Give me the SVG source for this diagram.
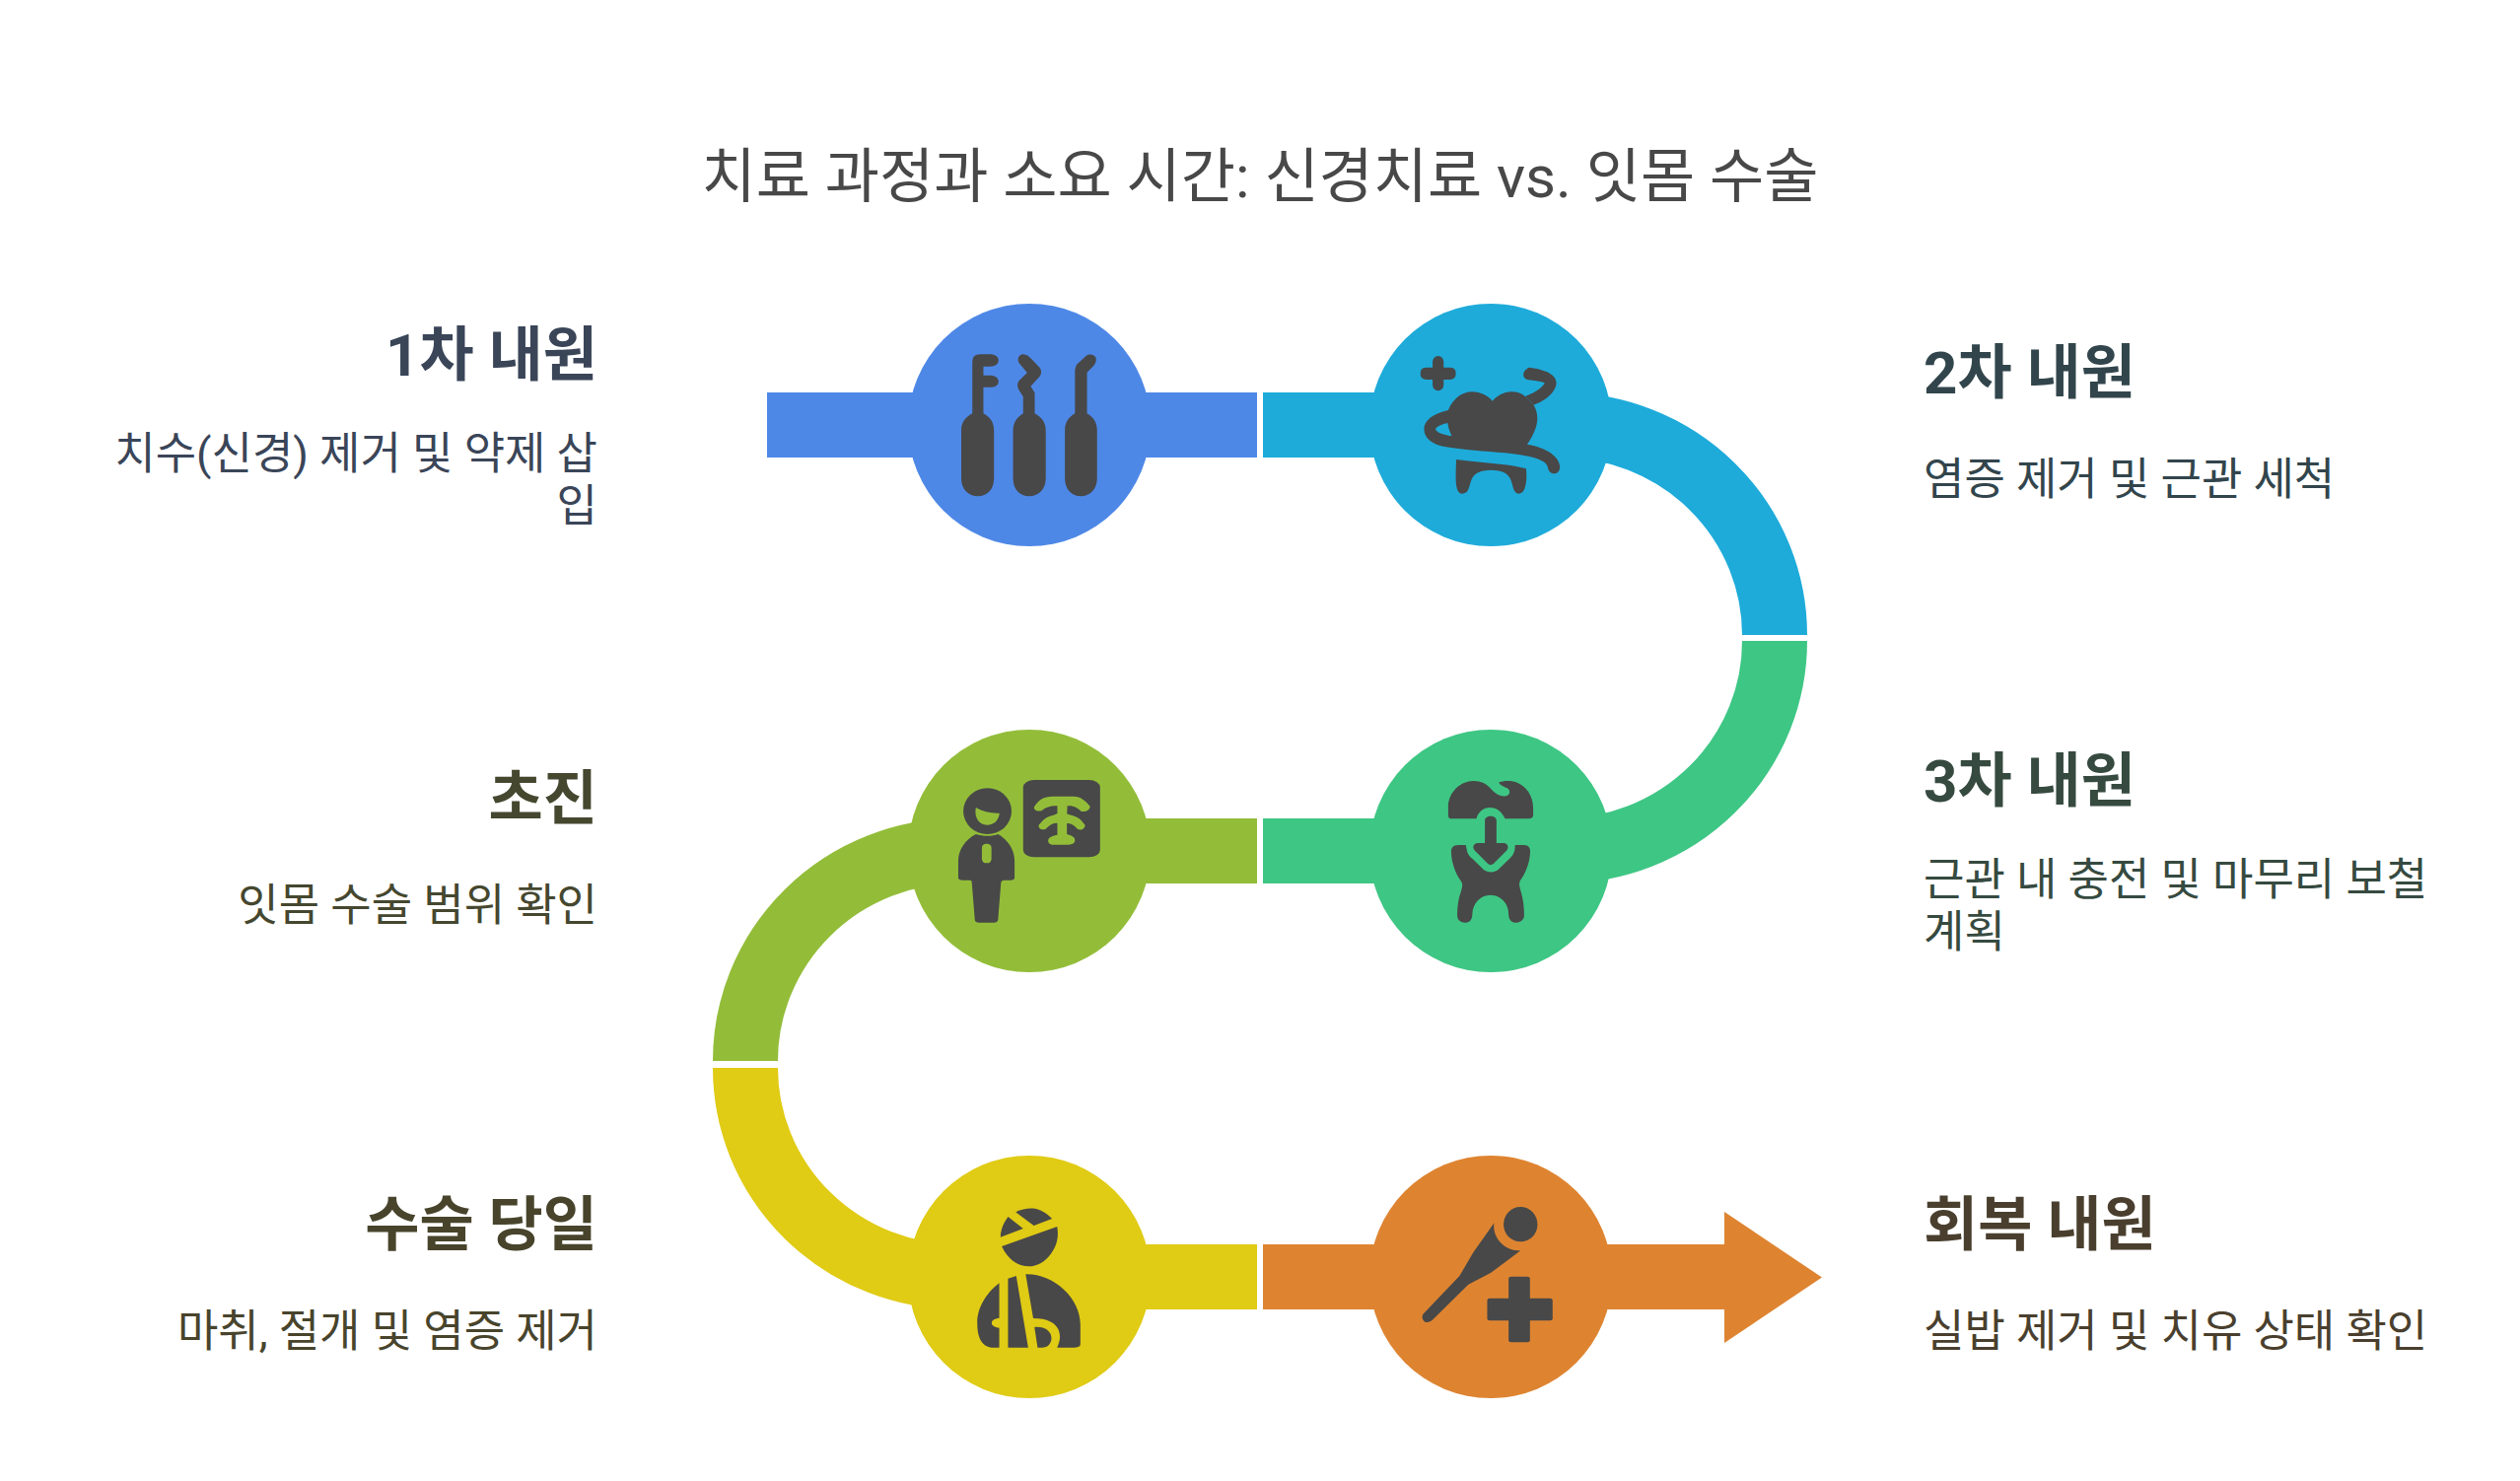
<svg xmlns="http://www.w3.org/2000/svg" width="2556" height="1502" viewBox="0 0 2556 1502">
<style>
text{font-family:Roboto,"Noto Sans CJK KR",sans-serif}
.title{font-size:60px;fill:#484848;text-anchor:middle}
.h{font-size:60px;font-weight:700}
.b{font-size:45px}
.e{text-anchor:end}
.i{fill:#484848}
.band{fill:none;stroke-width:66}
</style>
<rect width="2556" height="1502" fill="#fff"/>
<text class="title" x="1278" y="200">치료 과정과 소요 시간: 신경치료 vs. 잇몸 수술</text>
<g id="connectors">
<rect x="778" y="398" width="497" height="66" fill="#4e88e7"/>
<path class="band" stroke="#1eabda" d="M1281,431H1584A216,213 0 0 1 1800,644"/>
<path class="band" stroke="#3ec684" d="M1800,650A216,213 0 0 1 1584,863H1281"/>
<path class="band" stroke="#93bd39" d="M1275,863H972A216,213 0 0 0 756,1076"/>
<path class="band" stroke="#e0cb15" d="M756,1083A216,212 0 0 0 972,1295H1275"/>
<path fill="#de8431" d="M1281,1262H1749V1229L1848,1295.500 1749,1362V1328H1281Z"/>
</g>
<g id="node-1">
<circle cx="1044" cy="431" r="123" fill="#4e88e7"/>
<path class="i" transform="translate(900 280) scale(.5102 .3333)" d="M147,470C147,445 155,430 169,418V260Q169,238 185,238H203C215,238 221,246 221,256C221,268 215,275 203,275H191V302H203C215,302 221,310 221,320C221,332 215,338 203,338H191V418C205,430 212,445 212,470V615C212,650 198,670 180,670C162,670 147,650 147,615Z"/>
<path class="i" transform="translate(900 280) scale(.5102 .3333)" d="M250,470C250,445 258,430 270,418V367L261,345C258,335 258,325 262,318L278,294L262,265C257,252 262,238 270,238C276,238 282,245 285,250L302,277C307,285 307,297 303,305L285,335L293,355V418C307,430 315,445 315,470V615C315,650 300,670 282,670C264,670 250,650 250,615Z"/>
<path class="i" transform="translate(900 280) scale(.5102 .3333)" d="M353,470C353,445 360,430 373,418V285L376,270L395,243C402,235 412,238 415,250C416,260 413,268 410,273L397,293V418C410,430 417,445 417,470V615C417,650 402,670 385,670C367,670 353,650 353,615Z"/>
</g>
<g id="node-2">
<circle cx="1512" cy="431" r="123" fill="#1eabda"/>
<g class="i" transform="translate(900 280) scale(.5102 .3333)">
<rect x="1084" y="243" width="22" height="106" rx="11" ry="18"/>
<rect x="1060" y="278" width="70" height="37" rx="11" ry="14"/>
<path d="M1115,408C1125,370 1145,352 1162,352C1180,352 1195,365 1203,380C1212,362 1228,352 1242,352C1252,352 1262,358 1268,366L1285,392C1297,425 1295,460 1272,512C1305,520 1335,545 1337,578C1338,590 1333,601 1326,601C1320,601 1314,595 1313,582C1312,560 1280,547 1240,540C1200,533 1150,530 1105,518C1085,512 1067,495 1067,465C1067,440 1085,418 1115,408ZM1114,447C1103,450 1092,458 1090,465C1090,475 1105,483 1122,487C1118,472 1115,460 1114,447Z" fill-rule="evenodd"/>
<path d="M1268,366C1280,360 1300,345 1307,325C1295,318 1285,318 1275,316C1262,312 1260,290 1275,278C1300,282 1330,295 1330,325C1330,350 1310,380 1285,392Z"/>
<path d="M1131,558C1180,568 1230,570 1270,586C1272,620 1270,662 1255,662C1245,662 1244,640 1240,622C1235,600 1222,590 1200,590C1178,590 1165,600 1160,625C1156,645 1155,662 1143,662C1127,662 1130,610 1131,558Z"/>
</g>
</g>
<g id="node-3">
<circle cx="1512" cy="863" r="123" fill="#3ec684"/>
<g class="i" transform="translate(900 720) scale(.5102 .3333)">
<path d="M1115,320V295C1115,250 1140,216 1165,216C1180,216 1192,225 1200,240C1208,255 1220,265 1230,262C1238,258 1240,245 1232,238C1225,233 1216,228 1216,220C1225,215 1240,215 1250,220C1270,232 1284,260 1284,300V322Q1283,331 1275,331H1228C1222,310 1212,297 1198,297C1185,297 1175,310 1171,331H1122Q1115,331 1115,320Z"/>
<path d="M1188,335C1188,328 1193,323 1199,323C1206,323 1211,328 1211,335V405H1225C1233,405 1237,418 1231,428L1205,468Q1199,475 1194,468L1168,428C1162,418 1165,405 1175,405H1188Z"/>
<path d="M1135,411H1150L1152,425C1153,440 1160,448 1165,455L1183,482C1192,497 1208,497 1217,482L1235,455C1243,445 1248,435 1248,411H1265C1275,411 1278,420 1278,430C1278,460 1270,495 1258,520C1255,530 1257,540 1260,555C1264,575 1266,600 1266,625C1266,640 1258,647 1250,647C1242,647 1235,640 1235,620C1235,590 1220,563 1199,563C1178,563 1164,590 1163,620C1163,640 1157,647 1148,647C1140,647 1133,640 1133,625C1133,600 1135,575 1140,555C1143,540 1145,530 1140,520C1128,495 1121,460 1121,430C1121,420 1125,411 1135,411Z"/>
</g>
</g>
<g id="node-4">
<circle cx="1044" cy="863" r="123" fill="#93bd39"/>
<g transform="translate(900 720) scale(.5102 .3333)">
<ellipse class="i" cx="199" cy="308" rx="48" ry="70"/>
<path fill="#93bd39" d="M176,297C190,310 205,315 223,314C222,335 212,350 198,350C184,350 172,330 176,297Z"/>
<path class="i" d="M176,378C155,395 141,425 141,460V510Q141,518 150,518H165Q168,518 168,525L174,640Q175,647 182,647H213Q219,647 220,640L226,525Q227,518 232,518H245Q253,518 253,510V460C253,425 240,395 220,378C210,385 190,385 176,378Z"/>
<rect fill="#93bd39" x="188" y="407" width="19" height="59" rx="9" ry="12"/>
<rect class="i" x="270" y="213" width="153" height="235" rx="22" ry="22"/>
<path fill="#93bd39" d="M292,295C300,275 310,263 330,263H370C385,263 395,278 403,293C403,305 393,312 385,308C378,298 370,290 358,292L357,315C358,320 375,320 385,335L393,350C393,362 385,368 378,362C372,352 365,343 357,345V378C365,382 373,385 373,397C373,405 368,410 360,410H330C322,410 319,403 320,395C321,385 332,382 338,380V345C330,342 320,355 315,362C308,367 300,362 301,350L310,335C320,322 330,322 338,315V292C328,290 315,295 308,305C300,312 290,305 292,295Z"/>
</g>
</g>
<g id="node-5">
<circle cx="1044" cy="1295" r="123" fill="#e0cb15"/>
<g class="i" transform="translate(900 1160) scale(.6378 .3333)">
<path d="M204,208C215,197 225,195 235,197C247,203 256,215 262,228L233,249Z"/>
<path d="M192,222L216,258L180,284C180,260 185,240 192,222Z"/>
<path d="M270,252C273,280 270,310 260,335C250,360 238,373 225,373C205,373 190,345 182,312Z"/>
<path d="M178,424V530C170,532 166,538 166,545C166,552 170,558 178,560V620H165C150,615 143,590 143,545C143,495 160,450 178,424Z"/>
<path d="M192,410L205,402L224,620H192Z"/>
<path d="M220,397C265,395 307,470 307,550V610Q307,620 298,620H270C275,600 276,585 272,565C267,545 255,531 232,531Z"/>
<path d="M234,558C250,555 260,570 261,590C261,608 255,620 246,620H239Z"/>
</g>
</g>
<g id="node-6">
<circle cx="1512" cy="1295" r="123" fill="#de8431"/>
<g class="i" transform="translate(900 1160) scale(.6378 .3333)">
<ellipse cx="1007" cy="245" rx="27" ry="53"/>
<path d="M965,241C962,275 975,325 1007,325L960,392L924,428L866,538Q860,546 855,542C850,535 850,525 852,518L910,402L932,330Z"/>
<rect x="988" y="404" width="34" height="200" rx="4" ry="6"/>
<rect x="954" y="470" width="104" height="68" rx="4" ry="6"/>
</g>
</g>
<g id="label-1">
<text class="h e" x="606" y="381" fill="#3a4558">1차 내원</text>
<text class="b e" x="606" y="476" fill="#3a4558">치수(신경) 제거 및 약제 삽</text>
<text class="b e" x="606" y="529" fill="#3a4558">입</text>
</g>
<g id="label-2">
<text class="h" x="1951" y="399" fill="#32454c">2차 내원</text>
<text class="b" x="1951" y="502" fill="#32454c">염증 제거 및 근관 세척</text>
</g>
<g id="label-3">
<text class="h" x="1951" y="813" fill="#364a40">3차 내원</text>
<text class="b" x="1951" y="908" fill="#364a40">근관 내 충전 및 마무리 보철</text>
<text class="b" x="1951" y="961" fill="#364a40">계획</text>
</g>
<g id="label-4">
<text class="h e" x="606" y="831" fill="#45472f">초진</text>
<text class="b e" x="606" y="934" fill="#45472f">잇몸 수술 범위 확인</text>
</g>
<g id="label-5">
<text class="h e" x="606" y="1263" fill="#48442c">수술 당일</text>
<text class="b e" x="606" y="1366" fill="#48442c">마취, 절개 및 염증 제거</text>
</g>
<g id="label-6">
<text class="h" x="1951" y="1263" fill="#4a3f2e">회복 내원</text>
<text class="b" x="1951" y="1366" fill="#4a3f2e">실밥 제거 및 치유 상태 확인</text>
</g>
</svg>
